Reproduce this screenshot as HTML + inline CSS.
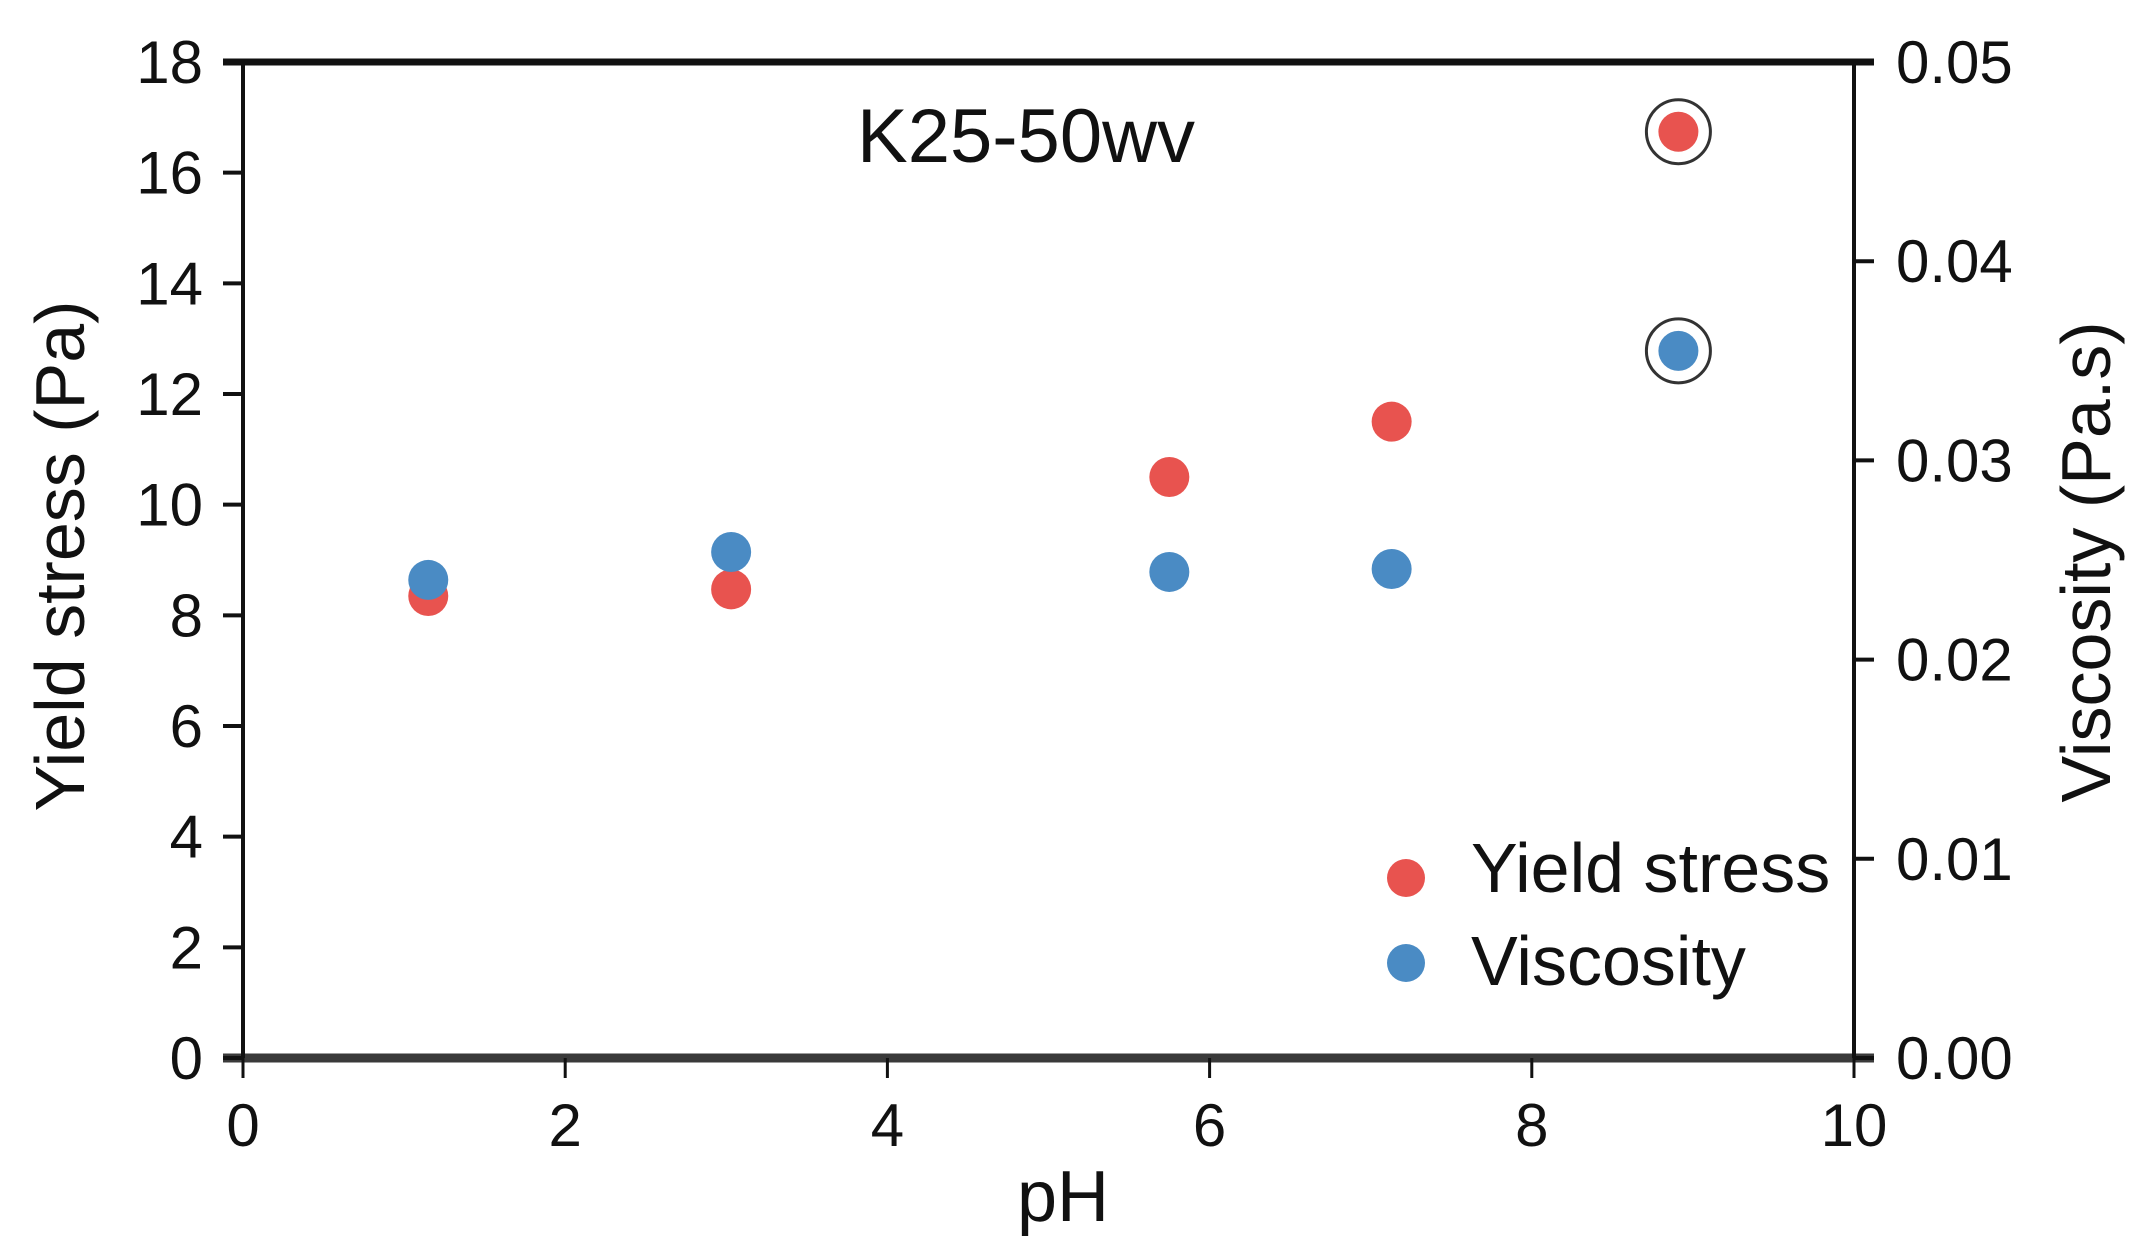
<!DOCTYPE html>
<html><head><meta charset="utf-8"><style>
html,body{margin:0;padding:0;background:#fff;}
svg{display:block;font-family:"Liberation Sans",Arial,sans-serif;}
</style></head><body>
<svg id="chart" width="2141" height="1256" viewBox="0 0 2141 1256" xmlns="http://www.w3.org/2000/svg">
<g id="axes"></g>
<g id="marks"></g>
<text x="1026" y="162" font-size="76" text-anchor="middle" fill="#111">K25-50wv</text>
<text x="1063" y="1221" font-size="72" text-anchor="middle" fill="#111">pH</text>
<text transform="translate(84,556) rotate(-90)" font-size="70" text-anchor="middle" fill="#111">Yield stress (Pa)</text>
<text transform="translate(2110,562) rotate(-90)" font-size="70" text-anchor="middle" fill="#111">Viscosity (Pa.s)</text>
<g>
<circle cx="1406" cy="878" r="19" fill="#e8534f"/>
<text x="1471" y="892" font-size="70" fill="#111">Yield stress</text>
<circle cx="1406" cy="963" r="19" fill="#4a8bc4"/>
<text x="1471" y="985" font-size="70" fill="#111">Viscosity</text>
</g>
</svg>
<script>
const phValues = [1.15, 3.03, 5.75, 7.13, 8.91];
const yieldValues = [8.35, 8.47, 10.5, 11.5, 16.74];
const viscValues = [0.0240, 0.0254, 0.0244, 0.02455, 0.0355];
const xTicks = [0, 2, 4, 6, 8, 10];
const yTicks = [0, 2, 4, 6, 8, 10, 12, 14, 16, 18];
const y2Ticks = ["0.00", "0.01", "0.02", "0.03", "0.04", "0.05"];
const highlighted = [false, false, false, false, true];

const L=243, R=1854, T=62, B=1058;
const xS = v => L + (v/10)*(R-L);
const yS = v => B - (v/18)*(B-T);
const y2S = v => B - (v/0.05)*(B-T);
const NS="http://www.w3.org/2000/svg";
function mk(tag, attrs, parent){const e=document.createElementNS(NS,tag);for(const k in attrs)e.setAttribute(k,attrs[k]);parent.appendChild(e);return e;}
const ax=document.getElementById('axes'), mg=document.getElementById('marks');
let e;
e=mk('line',{x1:L-20,y1:T,x2:R+20,y2:T,stroke:'#111','stroke-width':7},ax);


e=mk('line',{x1:L-20,y1:B,x2:R+20,y2:B,stroke:'#3a3a3a','stroke-width':9},ax);


e=mk('line',{x1:L,y1:T,x2:L,y2:B,stroke:'#111','stroke-width':4},ax);


e=mk('line',{x1:R,y1:T,x2:R,y2:B,stroke:'#111','stroke-width':4},ax);


xTicks.forEach(t=>{
  const x=xS(t);
  e=mk('line',{x1:x,y1:B,x2:x,y2:B+20,stroke:'#111','stroke-width':3},ax);
  
  
  e=mk('text',{x:x,y:1146,'font-size':60,'text-anchor':'middle',fill:'#111'},ax);e.textContent=t;
  
  
});
yTicks.forEach(t=>{
  const y=yS(t);
  e=mk('line',{x1:L-20,y1:y,x2:L,y2:y,stroke:'#111','stroke-width':4},ax);
  
  
  e=mk('text',{x:203,y:y+21,'font-size':60,'text-anchor':'end',fill:'#111'},ax);e.textContent=t;
  
  
});
y2Ticks.forEach(t=>{
  const y=y2S(parseFloat(t));
  e=mk('line',{x1:R,y1:y,x2:R+20,y2:y,stroke:'#111','stroke-width':4},ax);
  
  
  e=mk('text',{x:1896,y:y+21,'font-size':60,'text-anchor':'start',fill:'#111'},ax);e.textContent=t;
  
  
});
phValues.forEach((p,i)=>{
  const x=xS(p);
  e=mk('circle',{cx:x,cy:yS(yieldValues[i]),r:20,fill:'#e8534f'},mg);
  
  
  if(highlighted[i]){
    e=mk('circle',{cx:x,cy:yS(yieldValues[i]),r:32,fill:'none',stroke:'#333','stroke-width':3},mg);
    
    
  }
});
phValues.forEach((p,i)=>{
  const x=xS(p);
  e=mk('circle',{cx:x,cy:y2S(viscValues[i]),r:20,fill:'#4a8bc4'},mg);
  
  
  if(highlighted[i]){
    e=mk('circle',{cx:x,cy:y2S(viscValues[i]),r:32,fill:'none',stroke:'#333','stroke-width':3},mg);
    
    
  }
});
</script>
</body></html>
